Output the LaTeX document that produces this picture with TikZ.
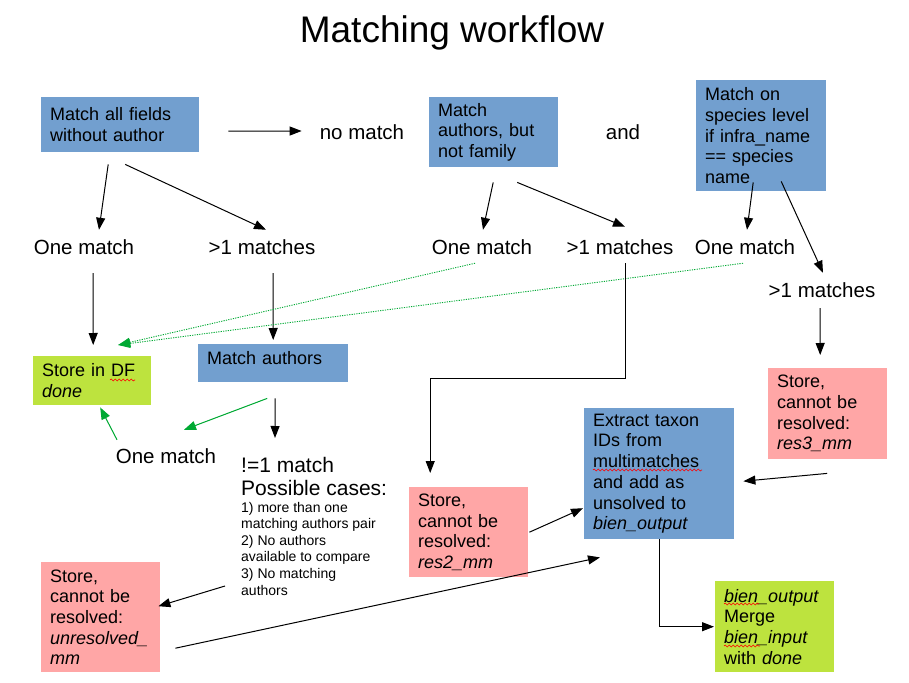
\documentclass[tikz,border=0pt]{standalone}
\usepackage{fontspec}
\setmainfont{Liberation Sans}
\usetikzlibrary{arrows.meta,decorations.pathmorphing}
\definecolor{boxblue}{HTML}{729FCF}
\definecolor{boxred}{HTML}{FFA6A6}
\definecolor{boxgreen}{HTML}{BDE33E}
\definecolor{okgreen}{HTML}{00A933}
\definecolor{spellred}{HTML}{FF0000}
\begin{document}
\begin{tikzpicture}[x=1pt,y=-1pt,
  lbl/.style={inner sep=0pt, font=\fontsize{20.5}{23.5}\selectfont},
  box/.style={anchor=north west, inner xsep=9pt, inner ysep=0pt, align=left, font=\fontsize{18}{20.7}\selectfont},
  arr/.style={line width=1pt, -{Triangle[length=12pt,width=9pt]}},
  garr/.style={arr, draw=okgreen, fill=okgreen},
  gdot/.style={line width=0.9pt, draw=okgreen, dash pattern=on 1.2pt off 1.2pt, -{Triangle[length=12pt,width=9pt,fill=okgreen]}},
  wave/.style={draw=spellred, line width=0.6pt, decorate, decoration={snake, amplitude=1pt, segment length=4pt}},
]
\useasboundingbox (0,0) rectangle (909,682);

\node[font=\fontsize{37}{40}\selectfont] (title) at (452,33) {Matching workflow};

% boxes
\node[box, fill=boxblue, text width=140pt, minimum height=55pt] (b1) at (41,97) {Match all fields\\without author};
\node[box, fill=boxblue, text width=111pt, minimum height=70pt] (b2) at (429,97) {Match\\authors, but\\not family};
\node[box, fill=boxblue, text width=112pt, minimum height=111pt] (b3) at (696,80) {Match on\\species level\\if infra\_name\\== species\\name};
\node[box, fill=boxgreen, text width=100pt, minimum height=49pt] (done) at (33,356) {Store in DF\\\textit{done}};
\node[box, fill=boxblue, text width=132pt, minimum height=38pt, text depth=10pt] (ma) at (198,344) {Match authors};
\node[box, fill=boxred, text width=101pt, minimum height=110pt] (unres) at (41,562) {Store,\\cannot be\\resolved:\\\textit{unresolved\_}\\\textit{mm}};
\node[box, fill=boxred, text width=101pt, minimum height=90pt] (res2) at (409,487) {Store,\\cannot be\\resolved:\\\textit{res2\_mm}};
\node[box, fill=boxblue, text width=132pt, minimum height=131pt] (ex) at (584,408) {Extract taxon\\IDs from\\multimatches\\and add as\\unsolved to\\\textit{bien\_output}};
\node[box, fill=boxred, text width=101pt, minimum height=91pt] (res3) at (768,368) {Store,\\cannot be\\resolved:\\\textit{res3\_mm}};
\node[box, fill=boxgreen, text width=101pt, minimum height=91pt] (bien) at (715,581) {\textit{bien\_output}\\Merge\\\textit{bien\_input}\\with \textit{done}};

% spell-check underlines
\draw[wave] (110,380) -- (135,380);
\draw[wave] (593,470) -- (702,470);
\draw[wave] (724,604) -- (759,604);
\draw[wave] (724,646) -- (760,646);

% labels
\node[lbl] (nomatch) at (362,132) {no match};
\node[lbl] (and) at (623,132) {and};
\node[lbl] (one1) at (84,247) {One match};
\node[lbl] (gt1) at (262,247) {>1 matches};
\node[lbl] (one2) at (482,247) {One match};
\node[lbl] (gt2) at (620,247) {>1 matches};
\node[lbl] (one3) at (745,247) {One match};
\node[lbl] (gt3) at (822,290) {>1 matches};
\node[lbl] (one4) at (166,456) {One match};
\node[anchor=north west, inner sep=0pt, text width=165pt, align=left] (cases) at (241,457)
  {{\fontsize{21}{23}\selectfont\spaceskip=0pt\xspaceskip=0pt \mbox{!=1 match}\\\mbox{Possible cases:}\par}
   {\fontsize{14}{16.6}\selectfont\spaceskip=0pt\xspaceskip=0pt \mbox{1) more than one}\\\mbox{matching authors pair}\\\mbox{2) No authors}\\\mbox{available to compare}\\\mbox{3) No matching}\\authors\par}};

% connectors
\draw[arr] ([shift={(29,6.5)}]b1.east) -- ([shift={(-18,-1)}]nomatch.west);
\draw[arr] ([shift={(-12,12)}]b1.south) -- ([shift={(15,-9.5)}]one1.north);
\draw[arr] ([shift={(5,12)}]b1.south) -- ([shift={(4,-9.5)}]gt1.north);
\draw[arr] ([shift={(9,18.5)}]one1.south) -- ([shift={(1,-11)}]done.north);
\draw[arr] ([shift={(11,18.5)}]gt1.south) -- ([shift={(0,-4)}]ma.north);
\draw[arr] ([shift={(-0.5,15)}]b2.south) -- ([shift={(1,-9.5)}]one2.north);
\draw[arr] ([shift={(23.5,15)}]b2.south) -- ([shift={(5,-12.5)}]gt2.north);
\draw[arr] ([shift={(-8,-9)}]b3.south) -- ([shift={(2,-9.5)}]one3.north);
\draw[arr] ([shift={(20,-10)}]b3.south) -- ([shift={(1,-9.5)}]gt3.north);
\draw[gdot] ([shift={(-7,8.5)}]one2.south) -- ([shift={(26,-11)}]done.north);
\draw[gdot] ([shift={(-2,8.5)}]one3.south) -- ([shift={(26,-11)}]done.north);
\draw[arr] ([shift={(5,8.5)}]gt2.south) -- ++(0,115) -| ([shift={(-38.5,-14)}]res2.north);
\draw[arr] ([shift={(-2,10.5)}]gt3.south) -- ([shift={(-7.5,-13)}]res3.north);
\draw[garr] ([shift={(-6,16)}]ma.south) -- ([shift={(18,-18.5)}]one4.north);
\draw[arr] ([shift={(2,16)}]ma.south) -- ([shift={(34,-19)}]cases.north west);
\draw[garr] ([shift={(-49,-8.5)}]one4.north) -- ([shift={(8,2)}]done.south);
\draw[arr] ([shift={(-16,129)}]cases.north west) -- ([shift={(-2,-11)}]unres.east);
\draw[arr] ([shift={(15,31)}]unres.east) -- ([shift={(16,18)}]ex.south west);
\draw[arr] ([shift={(1,0)}]res2.east) -- ([shift={(-1,34.5)}]ex.west);
\draw[arr] ([shift={(-0.5,14)}]res3.south) -- ([shift={(9,7.5)}]ex.east);
\draw[arr, shorten >=1pt] (ex.south) |- (bien.west);
\end{tikzpicture}
\end{document}
